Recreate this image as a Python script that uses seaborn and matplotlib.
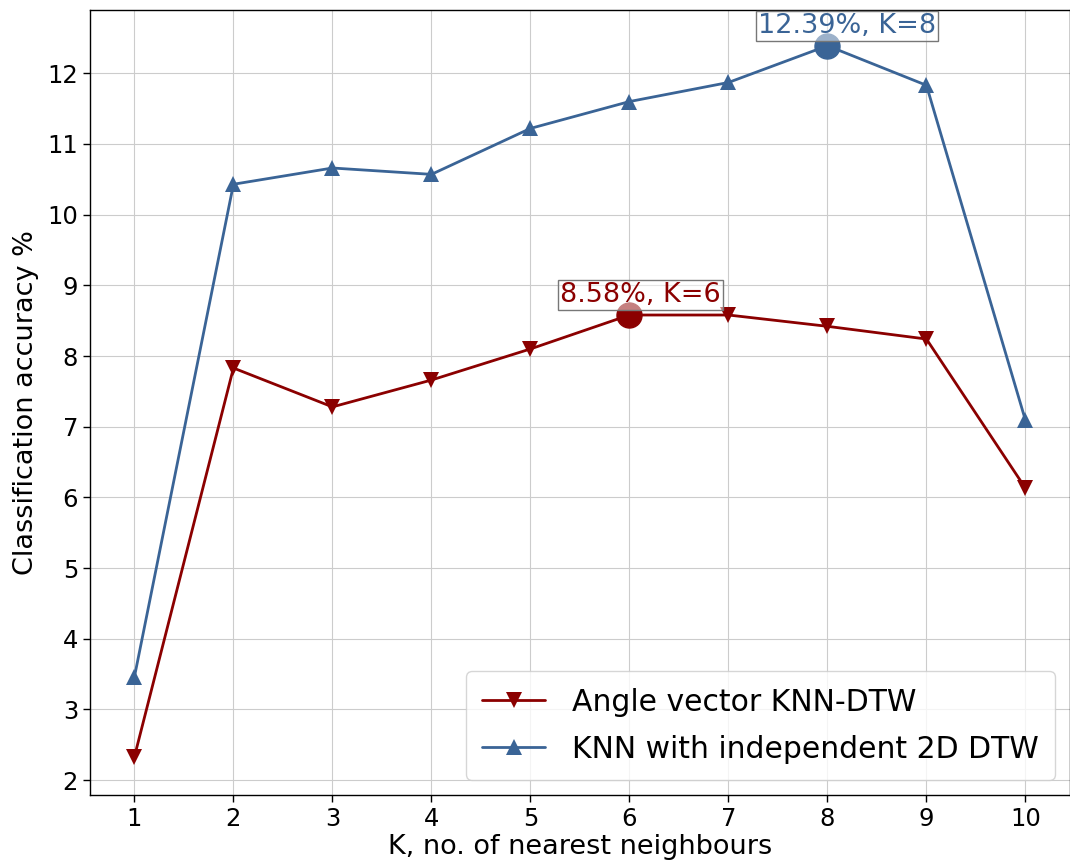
import numpy as np
import pandas as pd
import matplotlib
matplotlib.use("Agg")
import matplotlib.pyplot as plt
from matplotlib.ticker import MultipleLocator
import seaborn as sns

k_values = [1, 2, 3, 4, 5, 6, 7, 8, 9, 10]
angle_acc = [2.33, 7.83, 7.28, 7.66, 8.10, 8.58, 8.58, 8.42, 8.24, 6.13]
indep_acc = [3.46, 10.43, 10.66, 10.57, 11.22, 11.60, 11.87, 12.39, 11.83, 7.09]
series_names = ["Angle vector KNN-DTW", "KNN with independent 2D DTW"]

red = "#8b0000"
blue = "#3a6496"

sns.set_style("whitegrid", {"axes.edgecolor": "black", "grid.color": "#cccccc",
                            "text.color": "black", "axes.labelcolor": "black",
                            "xtick.color": "black", "ytick.color": "black"})
plt.rcParams["font.family"] = ["DejaVu Sans"]

fig, ax = plt.subplots(figsize=(10.7, 8.65), dpi=100)

df = pd.DataFrame({
    "K": k_values * 2,
    "acc": angle_acc + indep_acc,
    "method": [series_names[0]] * len(k_values) + [series_names[1]] * len(k_values),
})

sns.lineplot(data=df, x="K", y="acc", hue="method", style="method",
             markers={series_names[0]: "v", series_names[1]: "^"}, dashes=False,
             palette={series_names[0]: red, series_names[1]: blue},
             markersize=12, linewidth=2, markeredgewidth=0, ax=ax)

# highlight the best K of each method
for vals, col in [(angle_acc, red), (indep_acc, blue)]:
    i = int(np.argmax(vals))
    ax.plot(k_values[i], vals[i], "o", color=col, markersize=18, zorder=4)
    ax.annotate(f"{vals[i]:.2f}%, K={k_values[i]}", (k_values[i], vals[i]),
                xytext=(-50, 5), textcoords="offset points", ha="left", va="bottom",
                fontsize=19.5, color=col, zorder=5, annotation_clip=False,
                bbox=dict(boxstyle="square,pad=0.08", fc=(1, 1, 1, 0.5), ec="#777777", lw=1))

ax.set_xticks(k_values)
ax.yaxis.set_major_locator(MultipleLocator(1))
ax.tick_params(axis="both", labelsize=17.5, length=5, width=1, bottom=True, left=True)
ax.set_xlabel("K, no. of nearest neighbours", fontsize=19.5, labelpad=2)
ax.set_ylabel("Classification accuracy %", fontsize=19.5, labelpad=6)
ax.set_ylim(1.79, 12.89)
for s in ax.spines.values():
    s.set_linewidth(1.0)

leg = ax.legend(loc="lower right", fontsize=21.5, frameon=True, handlelength=2.1,
                labelspacing=0.6, borderpad=0.55, handletextpad=0.9)
leg.set_title(None)

fig.subplots_adjust(left=0.084, right=1.0, top=0.988, bottom=0.081)
fig.savefig("out.png", dpi=100)
